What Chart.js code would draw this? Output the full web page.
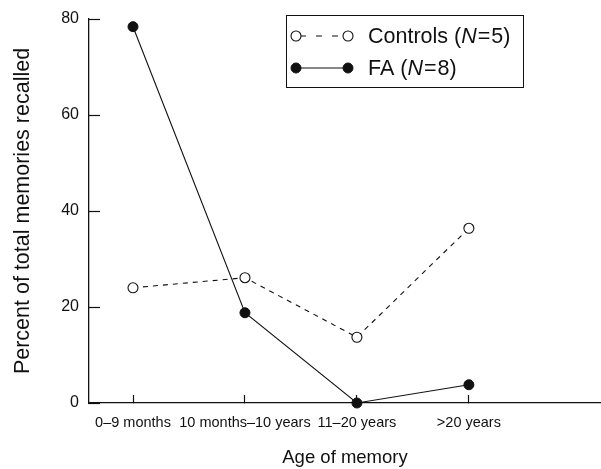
<!DOCTYPE html>
<html>
<head>
<meta charset="utf-8">
<script src="https://cdn.jsdelivr.net/npm/chart.js@4.4.0/dist/chart.umd.min.js"></script>
<style>
html,body{margin:0;padding:0;background:#fff;}
#wrap{width:601px;height:469px;position:relative;}
</style>
</head>
<body>
<div id="wrap"><canvas id="c" width="601" height="469"></canvas></div>
<script>
const categories = ['0\u20139 months', '10 months\u201310 years', '11\u201320 years', '>20 years'];
const controlsValues = [24, 26.1, 13.7, 36.4];
const faValues = [78.4, 18.8, 0, 3.8];
const seriesNames = ['Controls', 'FA'];
const seriesN = [5, 8];
const yTicks = [0, 20, 40, 60, 80];
const xTitle = 'Age of memory';
const yTitle = 'Percent of total memories recalled';

const FONT = '"Liberation Sans", Arial, Helvetica, sans-serif';
const INK = '#111';

const legendPlugin = {
  id: 'customLegend',
  afterDraw(chart) {
    const ctx = chart.ctx;
    const bx = 286, by = 15, bw = 237, bh = 72;
    ctx.save();
    ctx.lineWidth = 1;
    ctx.strokeStyle = INK;
    ctx.strokeRect(bx + 0.5, by + 0.5, bw, bh);
    chart.data.datasets.forEach((ds, i) => {
      const y = by + 21 + i * 32;
      const x1 = bx + 10, x2 = bx + 62;
      ctx.beginPath();
      if (ds.borderDash) { ctx.setLineDash([6, 10]); ctx.lineDashOffset = 12; }
      else { ctx.setLineDash([]); }
      ctx.strokeStyle = ds.borderColor;
      ctx.lineWidth = ds.borderWidth;
      ctx.moveTo(x1, y); ctx.lineTo(x2, y);
      ctx.stroke();
      ctx.setLineDash([]);
      [x1, x2].forEach(px => {
        ctx.beginPath();
        ctx.arc(px, y, ds.pointRadius, 0, Math.PI * 2);
        ctx.fillStyle = ds.pointBackgroundColor;
        ctx.fill();
        ctx.lineWidth = ds.pointBorderWidth;
        ctx.strokeStyle = ds.pointBorderColor;
        ctx.stroke();
      });
      let tx = bx + 82;
      ctx.fillStyle = INK;
      ctx.textBaseline = 'middle';
      const parts = [
        [seriesNames[i] + ' (', 'normal', 0],
        ['N', 'italic', 1],
        ['=', 'normal', 1],
        [String(seriesN[i]) + ')', 'normal', 0]
      ];
      parts.forEach(([t, st, gap]) => {
        ctx.font = st + ' 21.5px ' + FONT;
        ctx.fillText(t, tx, y + 1);
        tx += ctx.measureText(t).width + gap;
      });
    });
    ctx.restore();
  }
};

const chart = new Chart(document.getElementById('c'), {
  type: 'line',
  data: {
    datasets: [
      {
        label: seriesNames[0],
        data: controlsValues.map((v, i) => ({x: i, y: v})),
        borderColor: INK,
        borderWidth: 1.1,
        borderDash: [5, 5],
        pointRadius: 5,
        pointBackgroundColor: '#fff',
        pointBorderColor: INK,
        pointBorderWidth: 1.1,
        clip: false,
        tension: 0
      },
      {
        label: seriesNames[1],
        data: faValues.map((v, i) => ({x: i, y: v})),
        borderColor: INK,
        borderWidth: 1.1,
        pointRadius: 5,
        pointBackgroundColor: INK,
        pointBorderColor: INK,
        pointBorderWidth: 1,
        clip: false,
        tension: 0
      }
    ]
  },
  options: {
    responsive: false,
    animation: false,
    devicePixelRatio: 1,
    layout: {autoPadding: false, padding: {top: 19, left: 0, right: 0, bottom: 0}},
    plugins: {legend: {display: false}, tooltip: {enabled: false}},
    scales: {
      x: {
        type: 'linear',
        min: -0.393,
        max: 4.18,
        afterBuildTicks(s) { s.ticks = categories.map((c, i) => ({value: i})); },
        afterFit(s) { s.height = 66; s.paddingLeft = 0; s.paddingRight = 0; },
        ticks: {
          callback: (v) => categories[v],
          font: {family: FONT, size: 14.5},
          color: INK,
          padding: 19,
          maxRotation: 0,
          autoSkip: false
        },
        grid: {drawOnChartArea: false, tickLength: -8, color: INK, tickWidth: 1.2},
        border: {display: true, color: INK, width: 1.3},
        title: {display: true, text: xTitle, font: {family: FONT, size: 18.5}, color: INK, padding: {top: 0, bottom: 0}}
      },
      y: {
        min: 0,
        max: 80,
        afterBuildTicks(s) { s.ticks = yTicks.map(v => ({value: v})); },
        afterFit(s) { s.width = 89; s.paddingTop = 0; s.paddingBottom = 0; },
        ticks: {
          font: {family: FONT, size: 16},
          color: INK,
          padding: 21
        },
        grid: {drawOnChartArea: false, tickLength: -11, color: INK, tickWidth: 1.2},
        border: {display: true, color: INK, width: 1.3},
        title: {display: true, text: yTitle, font: {family: FONT, size: 21.5}, color: INK, padding: {top: 10, bottom: 0}}
      }
    }
  },
  plugins: [legendPlugin]
});
</script>
</body>
</html>
